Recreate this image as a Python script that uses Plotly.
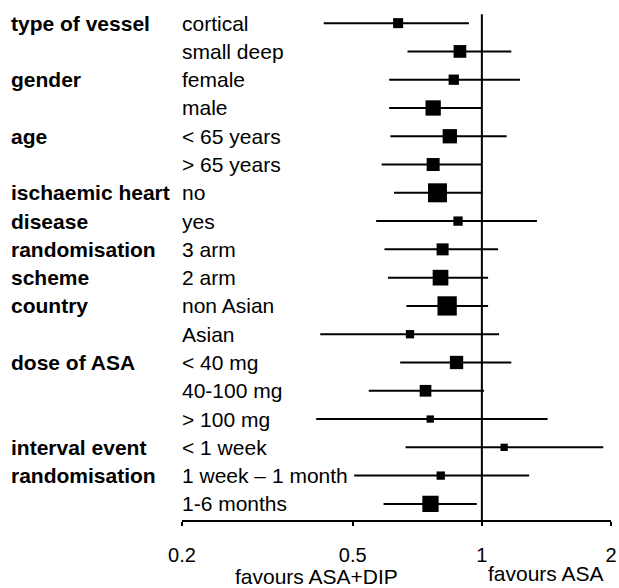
import plotly.graph_objects as go

# Subgroup rows, top to bottom
subgroups = ["cortical", "small deep", "female", "male", "< 65 years", "> 65 years",
             "no", "yes", "3 arm", "2 arm", "non Asian", "Asian",
             "< 40 mg", "40-100 mg", "> 100 mg", "< 1 week", "1 week \u2013 1 month", "1-6 months"]
# Hazard ratio point estimates and 95% CI bounds
estimate = [0.638, 0.889, 0.860, 0.770, 0.842, 0.770,
            0.788, 0.880, 0.810, 0.801, 0.830, 0.680,
            0.873, 0.739, 0.758, 1.127, 0.802, 0.759]
ci_low = [0.428, 0.671, 0.608, 0.608, 0.612, 0.584,
          0.624, 0.567, 0.593, 0.604, 0.667, 0.420,
          0.645, 0.545, 0.411, 0.664, 0.504, 0.590]
ci_high = [0.933, 1.171, 1.227, 1.000, 1.142, 1.000,
           1.000, 1.344, 1.091, 1.034, 1.034, 1.097,
           1.171, 1.012, 1.423, 1.919, 1.289, 0.973]
# Relative weight of each subgroup (square size)
weight = [10, 12.7, 10.3, 15.3, 14.3, 13, 19, 9.3, 12, 15.7, 19.3, 8.3,
          13.3, 11.7, 7.3, 7.3, 8.3, 16.3]
# Group headings and the row they sit on (1-based)
group_labels = ["type of vessel", "gender", "age", "ischaemic heart", "disease",
                "randomisation", "scheme", "country", "dose of ASA",
                "interval event", "randomisation"]
group_rows = [1, 3, 5, 7, 8, 9, 10, 11, 13, 16, 17]
tick_values = [0.2, 0.5, 1, 2]
tick_labels = ["0.2", "0.5", "1", "2"]

rows = list(range(1, len(subgroups) + 1))
FONT = "Liberation Sans, Arial, sans-serif"
FS = 21

# plot area in pixels
L, R, T, B = 182, 611, 8.5, 520
PW, PH = R - L, B - T

fig = go.Figure()

# confidence interval whiskers
xs, ys = [], []
for lo, hi, r in zip(ci_low, ci_high, rows):
    xs += [lo, hi, None]
    ys += [r, r, None]
fig.add_trace(go.Scatter(x=xs, y=ys, mode="lines", cliponaxis=False,
                         line=dict(color="black", width=2), hoverinfo="skip"))

# line of no effect
fig.add_trace(go.Scatter(x=[1, 1], y=[0.69, 18.6], mode="lines", cliponaxis=False,
                         line=dict(color="black", width=2), hoverinfo="skip"))

# point estimates
fig.add_trace(go.Scatter(x=estimate, y=rows, mode="markers", cliponaxis=False,
                         marker=dict(symbol="square", size=weight, color="black",
                                     opacity=1, line=dict(width=0))))

annotations = []
for name, r in zip(subgroups, rows):
    annotations.append(dict(x=0, xref="paper", y=r, yref="y", text=name,
                            showarrow=False, xanchor="left", yanchor="middle",
                            xshift=-2, font=dict(size=FS, color="black", family=FONT)))
for name, r in zip(group_labels, group_rows):
    annotations.append(dict(x=(9 - L) / PW, xref="paper", y=r, yref="y", text="<b>%s</b>" % name,
                            showarrow=False, xanchor="left", yanchor="middle",
                            font=dict(size=FS, color="black", family=FONT)))
annotations.append(dict(x=(316 - L) / PW, xref="paper", y=(B - 577) / PH, yref="paper",
                        text="favours ASA+DIP", showarrow=False, xanchor="center", yanchor="middle",
                        font=dict(size=FS, color="black", family=FONT)))
annotations.append(dict(x=(546 - L) / PW, xref="paper", y=(B - 574) / PH, yref="paper",
                        text="favours ASA", showarrow=False, xanchor="center", yanchor="middle",
                        font=dict(size=FS, color="black", family=FONT)))

fig.update_layout(
    width=619, height=588, autosize=False,
    margin=dict(l=L, r=619 - R, t=T, b=588 - B, pad=0, autoexpand=False),
    paper_bgcolor="white", plot_bgcolor="white",
    showlegend=False,
    annotations=annotations,
    xaxis=dict(type="log", range=[-0.69897, 0.30103], tickvals=tick_values, ticktext=tick_labels,
               automargin=False,
               showgrid=False, zeroline=False, showline=True, linecolor="black", linewidth=2,
               ticks="outside", ticklen=4, tickwidth=2, tickcolor="black",
               tickfont=dict(size=20, color="black", family=FONT), ticklabelstandoff=12),
    yaxis=dict(range=[18.57, 0.5], visible=False, showgrid=False, zeroline=False, automargin=False),
)

fig.write_html("out.html", config={"displayModeBar": False})
